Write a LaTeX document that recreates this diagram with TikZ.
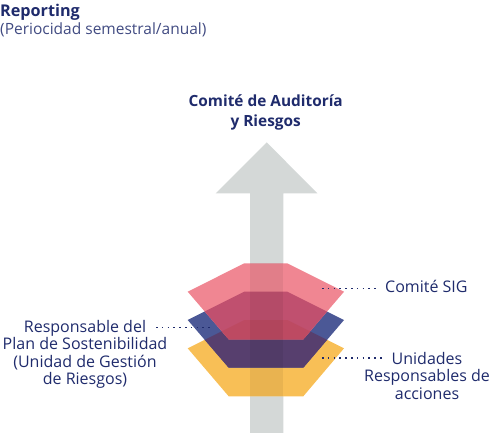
\documentclass[tikz,border=0pt]{standalone}
\usepackage{fontspec}
\setmainfont{Open Sans}
\definecolor{navy}{HTML}{1F2B6C}
\definecolor{arrowgray}{HTML}{D4D8D7}
\definecolor{pinkc}{HTML}{F08692}
\definecolor{bluec}{HTML}{4B5896}
\definecolor{yellowc}{HTML}{F8BF56}
\definecolor{bycol}{HTML}{573F6E}
\definecolor{pbcol}{HTML}{C0506F}
\definecolor{pbycol}{HTML}{BD4A62}
\newcommand\pinkhex{(244.3,263.3) -- (287.3,263.3) -- (344,291.7) -- (303.3,339.3) -- (228.7,339.3) -- (187.7,291.7) -- cycle}
\newcommand\bluehex{(244.3,291.7) -- (287.3,291.7) -- (344,320) -- (303.3,367.7) -- (228.7,367.7) -- (187.7,320) -- cycle}
\newcommand\yellowhex{(244.3,320) -- (287.3,320) -- (344,348.3) -- (303.3,396.3) -- (228.7,396.3) -- (187.7,348.3) -- cycle}
\begin{document}
\begin{tikzpicture}[x=1pt,y=-1pt,
  titletext/.style={inner sep=0pt, text=navy, font=\fontsize{16.2}{19}\selectfont\bfseries},
  subtext/.style={inner sep=0pt, text=navy!85, font=\fontsize{15.5}{17}\selectfont},
  headtext/.style={inner sep=0pt, text=navy, align=center, font=\fontsize{15.4}{20}\selectfont\bfseries},
  labeltext/.style={inner sep=0pt, text=navy, align=center, font=\fontsize{16}{17.3}\selectfont},
  leader/.style={navy, line width=1.6pt, dash pattern=on 1.6pt off 4.2pt}]
\useasboundingbox (0,0) rectangle (495,433);
% arrow
\fill[arrowgray] (250,433) -- (250,193.3) -- (215.7,193.3) -- (266.7,142.3) -- (317.3,193.3) -- (283.3,193.3) -- (283.3,433) -- cycle;
% layers
\fill[yellowc] \yellowhex;
\fill[bluec] \bluehex;
\begin{scope}
  \clip \bluehex;
  \fill[bycol] \yellowhex;
\end{scope}
\fill[pinkc] \pinkhex;
\begin{scope}
  \clip \pinkhex;
  \fill[pbcol] \bluehex;
  \clip \bluehex;
  \fill[pbycol] \yellowhex;
\end{scope}
% arrow shaft showing faintly through the layers
\fill[black, opacity=0.06] (250,263.3) rectangle (283.3,396.3);
% texts
\node[titletext, anchor=base west] (rep) at (0,17) {Reporting};
\node[subtext, anchor=base west] (period) at (0,34.5) {(Periocidad semestral/anual)};
\node[headtext, anchor=base] (comite) at (265.7,126.7) {Comité de Auditoría\\y Riesgos};
\node[labeltext, anchor=base west] (sig) at (385,292.7) {Comité SIG};
\node[labeltext, anchor=base] (unid) at (427,399) {Unidades\\Responsables de\\acciones};
\node[labeltext, anchor=base] (resp) at (85,384.3) {Responsable del\\Plan de Sostenibilidad\\(Unidad de Gestión\\de Riesgos)};
% leaders
\coordinate (sigA) at (322,288.3);
\coordinate (sigB) at (377,288.3);
\coordinate (unA) at (322,358);
\coordinate (unB) at (382,358);
\coordinate (reA) at (156,327.5);
\coordinate (reB) at (210,327.5);
\draw[leader] (sigA) -- (sigB);
\draw[leader] (unA) -- (unB);
\draw[leader] (reA) -- (reB);
\end{tikzpicture}
\end{document}
